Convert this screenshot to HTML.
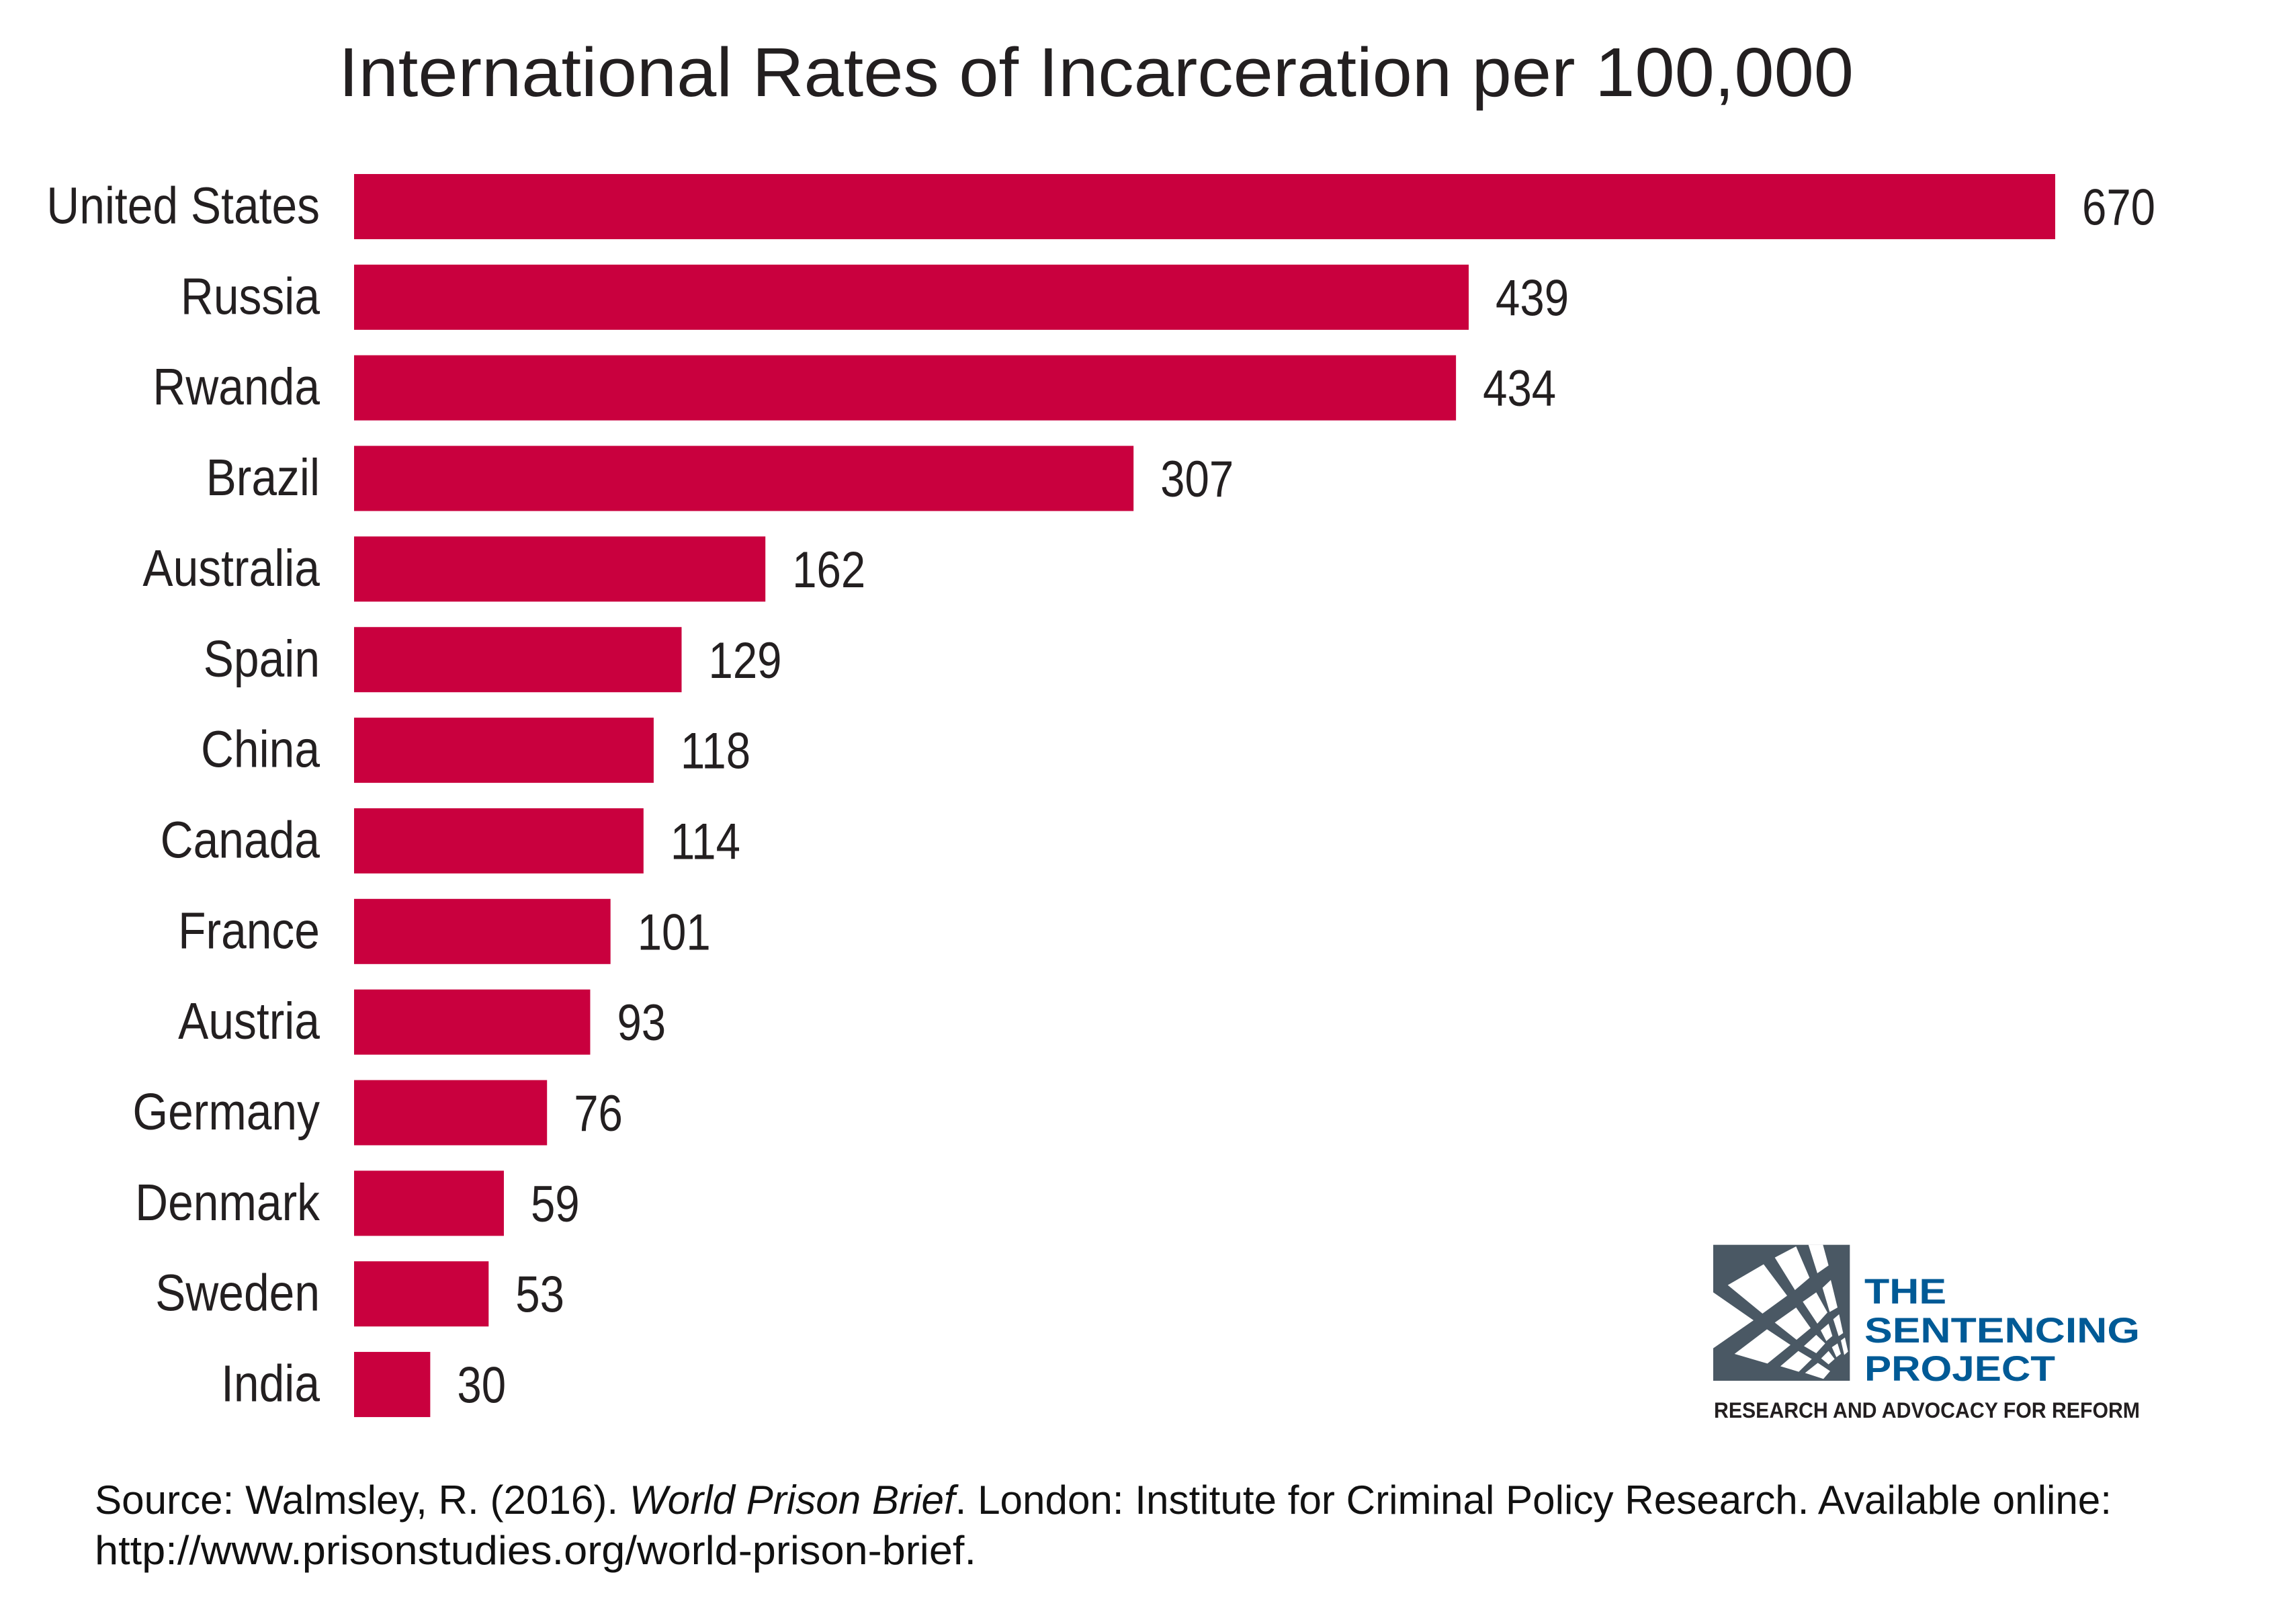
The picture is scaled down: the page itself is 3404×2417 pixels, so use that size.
<!DOCTYPE html>
<html><head><meta charset="utf-8"><style>
html,body{margin:0;padding:0;background:#fff;}
svg{display:block;}
text{font-family:"Liberation Sans",sans-serif;}
</style></head>
<body>
<svg id="chart" width="3404" height="2417" viewBox="0 0 3404 2417" xmlns="http://www.w3.org/2000/svg">
<rect width="3404" height="2417" fill="#fff"/>
<text x="504" y="143" font-size="103" fill="#231f20" textLength="2255" lengthAdjust="spacingAndGlyphs">International Rates of Incarceration per 100,000</text>
<g id="bars"></g>
<g id="labels"></g>
<g id="values"></g>

<g>
  <g transform="translate(2540,1840) scale(0.3333)">
    <rect x="30" y="38" width="610" height="607" fill="#4a5864"/>
    <polygon points="30,250 210,375 30,500" fill="#fff"/>
    <polygon points="95,218 255,125 360,265 250,345" fill="#fff"/>
    <polygon points="305,95 400,45 460,185 395,240" fill="#fff"/>
    <polygon points="455,38 520,38 545,130 495,165" fill="#fff"/>
    <polygon points="125,525 270,415 375,485 272,568" fill="#fff"/>
    <polygon points="305,385 400,318 465,410 402,462" fill="#fff"/>
    <polygon points="430,292 490,250 540,340 495,390" fill="#fff"/>
    <polygon points="518,230 555,195 585,318 550,338" fill="#fff"/>
    <polygon points="330,580 410,512 470,548 412,605" fill="#fff"/>
    <polygon points="435,490 490,440 530,478 490,522" fill="#fff"/>
    <polygon points="510,420 545,390 562,445 535,468" fill="#fff"/>
    <polygon points="566,370 592,348 610,432 590,446" fill="#fff"/>
    <polygon points="440,610 497,565 552,602 522,637" fill="#fff"/>
    <polygon points="512,545 545,512 572,548 545,572" fill="#fff"/>
    <polygon points="560,495 585,478 600,525 580,540" fill="#fff"/>
    <polygon points="600,465 618,452 632,515 615,530" fill="#fff"/>
  </g>
  <text x="2775" y="1940" font-size="53" font-weight="bold" fill="#005a96" textLength="122" lengthAdjust="spacingAndGlyphs">THE</text>
  <text x="2775" y="1998" font-size="53" font-weight="bold" fill="#005a96" textLength="410" lengthAdjust="spacingAndGlyphs">SENTENCING</text>
  <text x="2775" y="2055" font-size="53" font-weight="bold" fill="#005a96" textLength="284" lengthAdjust="spacingAndGlyphs">PROJECT</text>
  <text x="2551" y="2110" font-size="32" font-weight="bold" fill="#231f20" textLength="634" lengthAdjust="spacingAndGlyphs">RESEARCH AND ADVOCACY FOR REFORM</text>
</g>

<text x="141" y="2253" font-size="60" fill="#111" textLength="3002" lengthAdjust="spacingAndGlyphs">Source: Walmsley, R. (2016). <tspan font-style="italic">World Prison Brief</tspan>. London: Institute for Criminal Policy Research. Available online:</text>
<text x="141" y="2328" font-size="60" fill="#111" textLength="1312" lengthAdjust="spacingAndGlyphs">http://www.prisonstudies.org/world-prison-brief.</text>
</svg>
<script>
const categories = ["United States","Russia","Rwanda","Brazil","Australia","Spain","China","Canada","France","Austria","Germany","Denmark","Sweden","India"];
const values = [670,439,434,307,162,129,118,114,101,93,76,59,53,30];
const valueLabels = ["670","439","434","307","162","129","118","114","101","93","76","59","53","30"];

const NS = "http://www.w3.org/2000/svg";
const x0 = 527, pxPerUnit = (3059 - 527) / 670;
const top0 = 259, pitch = 134.85, barH = 97;
function xScale(v){ return x0 + v * pxPerUnit; }
function yScale(i){ return top0 + i * pitch; }
const sx = 0.88;
const barsG = document.getElementById('bars');
const labelsG = document.getElementById('labels');
const valuesG = document.getElementById('values');
categories.forEach((c, i) => {
  const y = yScale(i);
  const r = document.createElementNS(NS, 'rect');
  
  
  r.setAttribute('x', x0);
  r.setAttribute('y', y);
  r.setAttribute('width', xScale(values[i]) - x0);
  r.setAttribute('height', barH);
  r.setAttribute('fill', '#c9003e');
  barsG.appendChild(r);

  const t = document.createElementNS(NS, 'text');
  
  
  t.setAttribute('transform', 'translate(476,' + (y + barH/2 + 25) + ') scale(' + sx + ',1)');
  t.setAttribute('text-anchor', 'end');
  t.setAttribute('font-size', '77');
  t.setAttribute('fill', '#231f20');
  t.textContent = c;
  labelsG.appendChild(t);

  const v = document.createElementNS(NS, 'text');
  
  
  v.setAttribute('transform', 'translate(' + (xScale(values[i]) + 40) + ',' + (y + barH/2 + 27) + ') scale(0.86,1)');
  v.setAttribute('font-size', '76');
  v.setAttribute('fill', '#231f20');
  v.textContent = valueLabels[i];
  valuesG.appendChild(v);
});
</script>
</body></html>
